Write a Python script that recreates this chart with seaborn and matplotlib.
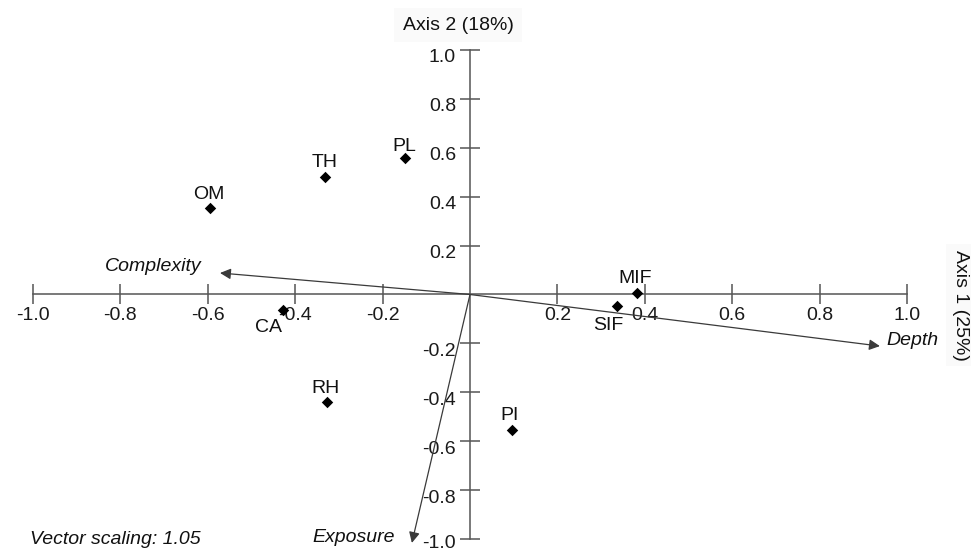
import matplotlib
matplotlib.use("Agg")
import matplotlib.pyplot as plt
import matplotlib.transforms as mtransforms
import seaborn as sns
import pandas as pd

# ---- data ----
sites = ["OM", "TH", "PL", "CA", "RH", "PI", "MIF", "SIF"]
axis1 = [-0.595, -0.332, -0.149, -0.428, -0.327, 0.096, 0.382, 0.336]
axis2 = [0.354, 0.481, 0.558, -0.063, -0.440, -0.554, 0.006, -0.047]

vectors = ["Complexity", "Depth", "Exposure"]
vec_x = [-0.572, 0.938, -0.133]
vec_y = [0.088, -0.211, -1.016]

ticks = [-1.0, -0.8, -0.6, -0.4, -0.2, 0.2, 0.4, 0.6, 0.8, 1.0]
tick_labels = ["-1.0", "-0.8", "-0.6", "-0.4", "-0.2", "0.2", "0.4", "0.6", "0.8", "1.0"]

x_title = "Axis 1 (25%)"
y_title = "Axis 2 (18%)"
note = "Vector scaling: 1.05"

# ---- style ----
sns.set_theme(style="white")
plt.rcParams["font.family"] = ["Liberation Sans", "DejaVu Sans"]
plt.rcParams["axes.unicode_minus"] = False

fig = plt.figure(figsize=(9.71, 5.52), dpi=100)
ax = fig.add_axes([0, 0, 1, 1])
ax.set_xlim(-1.0755, 1.1465)
ax.set_ylim(-1.0532, 1.2045)

axis_col = "#555555"
for side in ["top", "right"]:
    ax.spines[side].set_visible(False)
for side in ["left", "bottom"]:
    ax.spines[side].set_position(("data", 0))
    ax.spines[side].set_bounds(-1, 1)
    ax.spines[side].set_color(axis_col)
    ax.spines[side].set_linewidth(1.1)

ax.set_xticks(ticks)
ax.set_xticklabels(tick_labels)
ax.set_yticks(ticks)
ax.set_yticklabels(tick_labels)
ax.tick_params(axis="both", direction="inout", length=14, width=1.1,
               color=axis_col, labelsize=14, labelcolor="#1a1a1a",
               bottom=True, left=True, top=False, right=False)
ax.tick_params(axis="x", pad=2)
ax.tick_params(axis="y", pad=3)

# shift y tick labels slightly downward like the reference
for lab in ax.get_yticklabels():
    shift = -2.5 if lab.get_text() == "-1.0" else -6
    off = mtransforms.ScaledTranslation(0, shift / 100, fig.dpi_scale_trans)
    lab.set_transform(lab.get_transform() + off)

# ---- points ----
df = pd.DataFrame({"site": sites, "a1": axis1, "a2": axis2})
sns.scatterplot(data=df, x="a1", y="a2", marker="D", s=34, color="black",
                edgecolor="black", linewidth=0, ax=ax, zorder=5)
ax.set_xlabel("")
ax.set_ylabel("")

label_off = {"OM": (-1, 13.5), "TH": (0, 14), "PL": (-1, 12), "CA": (-14, -18),
             "RH": (-2, 14), "PI": (-2, 14), "MIF": (-2, 15), "SIF": (-9, -20)}
for s, x, y in zip(sites, axis1, axis2):
    dx, dy = label_off[s]
    ax.annotate(s, (x, y), xytext=(dx, dy), textcoords="offset pixels",
                ha="center", va="center", fontsize=14, color="#111111", zorder=6)

# ---- vectors ----
vec_lab = {"Complexity": ((-18, 6), "right"),
           "Depth": ((7, 6), "left"),
           "Exposure": ((-17, 5), "right")}
for name, x, y in zip(vectors, vec_x, vec_y):
    ax.annotate("", xy=(x, y), xytext=(0, 0),
                arrowprops=dict(arrowstyle="-|>", color="#3a3a3a", lw=0.9,
                                mutation_scale=16, shrinkA=0, shrinkB=0),
                zorder=4)
    (dx, dy), ha = vec_lab[name]
    ax.annotate(name, (x, y), xytext=(dx, dy), textcoords="offset pixels",
                ha=ha, va="center", fontsize=14, style="italic", color="#111111")

# ---- titles ----
fig.text(458 / 971, 1 - 25 / 552, y_title, ha="center", va="center", fontsize=14,
         color="#111111",
         bbox=dict(facecolor="#fafafa", edgecolor="none", pad=6))
fig.text(960 / 971, 1 - 305 / 552, x_title, ha="center", va="center", fontsize=14,
         rotation=-90, color="#111111",
         bbox=dict(facecolor="#fafafa", edgecolor="none", pad=4))
fig.text(115 / 971, 1 - 539 / 552, note, ha="center", va="center", fontsize=14,
         style="italic", color="#111111")

fig.savefig("out.png", dpi=100)
